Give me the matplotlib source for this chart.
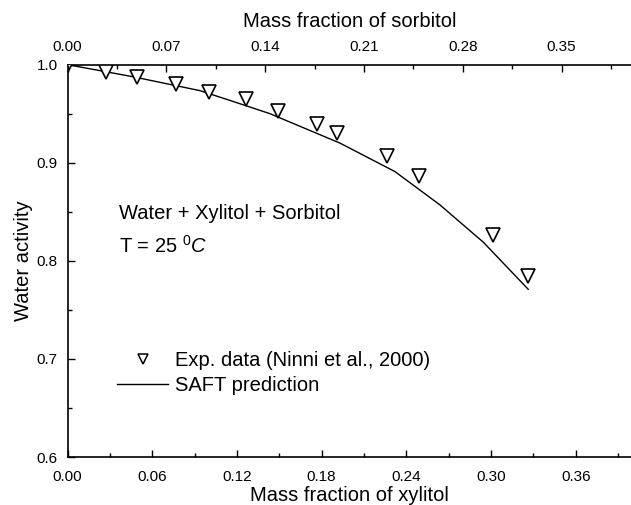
import matplotlib
matplotlib.use("Agg")
import matplotlib.pyplot as plt
from matplotlib.lines import Line2D
from matplotlib.ticker import MultipleLocator, FormatStrFormatter

plt.rcParams['font.family'] = ['Liberation Sans', 'DejaVu Sans']
plt.rcParams['mathtext.fontset'] = 'custom'
plt.rcParams['mathtext.rm'] = 'Liberation Sans'
plt.rcParams['mathtext.it'] = 'Liberation Sans:italic'

# Experimental water activity (Ninni et al., 2000)
exp_xylitol = [0.0, 0.0271, 0.0494, 0.0766, 0.1004, 0.1262, 0.1493,
               0.1765, 0.1906, 0.2265, 0.2491, 0.3011, 0.3264]
exp_aw = [1.0, 0.992, 0.987, 0.980, 0.972, 0.965, 0.953,
          0.939, 0.930, 0.907, 0.886, 0.826, 0.785]

# SAFT prediction
saft_xylitol = [0.0, 0.0466, 0.0938, 0.1151, 0.1434, 0.1930,
                0.2319, 0.2638, 0.2945, 0.3263]
saft_aw = [1.0, 0.9876, 0.9735, 0.9635, 0.950, 0.920,
           0.891, 0.857, 0.819, 0.771]

bottom_ticks = [0.00, 0.06, 0.12, 0.18, 0.24, 0.30, 0.36]
top_ticks = [0.00, 0.07, 0.14, 0.21, 0.28, 0.35]
y_ticks = [0.6, 0.7, 0.8, 0.9, 1.0]

FS = 14.5
TICK_FS = 11

fig = plt.figure(figsize=(6.31, 5.05), dpi=100)
ax = fig.add_axes([0.107, 0.095, 0.895, 0.777])

ax.plot(saft_xylitol, saft_aw, color='black', lw=1.0)
ax.plot(exp_xylitol, exp_aw, ls='none', marker='v', ms=9.5, mfc='white',
        mec='black', mew=1.2, zorder=3)

ax.set_xlim(0, 0.40)
ax.set_ylim(0.6, 1.0)
ax.set_xticks(bottom_ticks)
ax.xaxis.set_minor_locator(MultipleLocator(0.03))
ax.xaxis.set_major_formatter(FormatStrFormatter('%.2f'))
ax.set_yticks(y_ticks)
ax.yaxis.set_minor_locator(MultipleLocator(0.05))
ax.yaxis.set_major_formatter(FormatStrFormatter('%.1f'))
ax.tick_params(which='both', direction='in', labelsize=TICK_FS, width=1.0)
ax.tick_params(which='major', length=5)
ax.tick_params(which='minor', length=3)
ax.tick_params(axis='x', pad=9)
ax.tick_params(axis='y', pad=7)
ax.spines['right'].set_visible(False)
for s in ('left', 'bottom', 'top'):
    ax.spines[s].set_linewidth(1.2)

ax.set_xlabel('Mass fraction of xylitol', fontsize=FS, labelpad=2)
ax.set_ylabel('Water activity', fontsize=FS, labelpad=3)

# sorbitol scale on top
top = ax.twiny()
top.set_xlim(ax.get_xlim())
top.set_xticks(top_ticks)
top.xaxis.set_minor_locator(MultipleLocator(0.035))
top.xaxis.set_major_formatter(FormatStrFormatter('%.2f'))
top.tick_params(which='both', direction='in', labelsize=TICK_FS, width=1.0, pad=8)
top.tick_params(which='major', length=5)
top.tick_params(which='minor', length=3)
for s in top.spines.values():
    s.set_visible(False)
top.set_xlabel('Mass fraction of sorbitol', fontsize=FS, labelpad=9)

ax.text(0.0367, 0.8484, 'Water + Xylitol + Sorbitol', fontsize=FS, va='center')
ax.text(0.0367, 0.815, r'T = 25 $^{0}C$', fontsize=FS, va='center')

handles = [
    Line2D([], [], ls='none', marker='v', ms=7, mfc='white', mec='black', mew=1.1),
    Line2D([], [], color='black', lw=1.0),
]
labels = ['Exp. data (Ninni et al., 2000)', 'SAFT prediction']
ax.legend(handles, labels, loc='center left', bbox_to_anchor=(0.087, 0.213),
          frameon=False, fontsize=FS, borderpad=0, borderaxespad=0,
          handlelength=2.57, handletextpad=0.33, labelspacing=0.3)

fig.savefig('out.png', dpi=100)
